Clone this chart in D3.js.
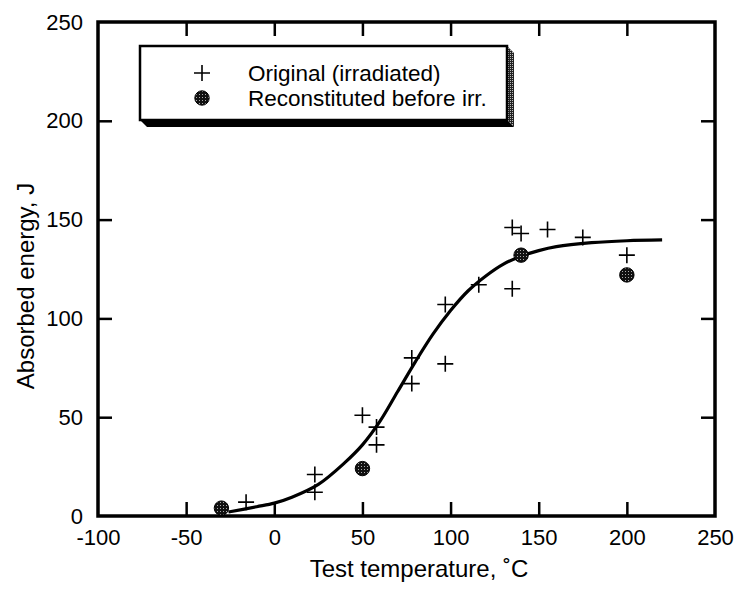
<!DOCTYPE html>
<html><head><meta charset="utf-8">
<script src="https://cdn.jsdelivr.net/npm/d3@7"></script>
<style>
html,body{margin:0;padding:0;background:#fff;}
text{font-family:"Liberation Sans",Arial,Helvetica,sans-serif;fill:#000;}
</style></head>
<body>
<script>
// ---- data ----
const origT = [-16, 23, 23, 50, 58, 58, 78, 78, 97, 97, 116, 135, 135, 140, 155, 175, 200];
const origE = [7, 21, 12, 51, 45, 36, 80, 67, 107, 77, 117, 115, 146, 143, 145, 141, 132];
const reconT = [-30, 50, 140, 200];
const reconE = [4, 24, 132, 122];
const fitT = [-26, -10, 0, 10, 25, 40, 50, 60, 70, 80, 90, 100, 110, 120, 130, 140, 150, 160, 180, 200, 220];
const fitE = [2, 4.7, 6.5, 9.5, 16, 27, 36, 48, 63, 78, 92, 104, 114, 121.5, 127.5, 131.5, 134.3, 136.3, 138.3, 139.3, 139.7];
const xTicks = [-100, -50, 0, 50, 100, 150, 200, 250];
const yTicks = [0, 50, 100, 150, 200, 250];
const legendLabels = ["Original (irradiated)", "Reconstituted before irr."];
const xTitle = "Test temperature, ˚C";
const yTitle = "Absorbed energy, J";

const W = 735, H = 589;
const L = 98, R = 715, T = 22, B = 516;
const svg = d3.select("body").append("svg").attr("width", W).attr("height", H);

const defs = svg.append("defs");
const dot = defs.append("pattern").attr("id","stip").attr("patternUnits","userSpaceOnUse")
  .attr("width",3).attr("height",3);
dot.append("rect").attr("width",3).attr("height",3).attr("fill","#111");
dot.append("rect").attr("x",1).attr("y",1).attr("width",1).attr("height",1).attr("fill","#aaa");
const dot2 = defs.append("pattern").attr("id","stip2").attr("patternUnits","userSpaceOnUse")
  .attr("width",2).attr("height",2);
dot2.append("rect").attr("width",2).attr("height",2).attr("fill","#222");
dot2.append("rect").attr("width",1).attr("height",1).attr("fill","#bbb");

const x = d3.scaleLinear().domain([-100, 250]).range([L, R]);
const y = d3.scaleLinear().domain([0, 250]).range([B, T]);
const fmt = d => String(d);

// axes with inward ticks
const tickLen = 14;
function styleAxis(g){
  g.select(".domain").remove();
  g.selectAll(".tick line").attr("stroke","#000").attr("stroke-width",2.5);
  g.selectAll(".tick text").attr("font-size",22).attr("fill","#000")
    .attr("font-family",'"Liberation Sans",Arial,sans-serif');
}
const xb = svg.append("g").attr("transform",`translate(0,${B})`)
  .call(d3.axisBottom(x).tickValues(xTicks).tickFormat(fmt).tickSize(-tickLen).tickPadding(13));
styleAxis(xb);
const xt = svg.append("g").attr("transform",`translate(0,${T})`)
  .call(d3.axisTop(x).tickValues(xTicks).tickFormat("").tickSize(-tickLen));
styleAxis(xt);
const yl = svg.append("g").attr("transform",`translate(${L},0)`)
  .call(d3.axisLeft(y).tickValues(yTicks).tickFormat(fmt).tickSize(-tickLen).tickPadding(15));
styleAxis(yl);
const yr = svg.append("g").attr("transform",`translate(${R},0)`)
  .call(d3.axisRight(y).tickValues(yTicks).tickFormat("").tickSize(-tickLen));
styleAxis(yr);
[xb, xt].forEach(g => g.selectAll(".tick").filter(d => d === -100 || d === 250).select("line").remove());
[yl, yr].forEach(g => g.selectAll(".tick").filter(d => d === 0 || d === 250).select("line").remove());

// frame
svg.append("rect").attr("x",L).attr("y",T).attr("width",R-L).attr("height",B-T)
  .attr("fill","none").attr("stroke","#000").attr("stroke-width",3.5);

// fitted curve
const line = d3.line().x(d => x(d[0])).y(d => y(d[1])).curve(d3.curveCatmullRom.alpha(0.5));
svg.append("path").datum(fitT.map((t,i)=>[t, fitE[i]]))
  .attr("d", line).attr("fill","none").attr("stroke","#000").attr("stroke-width",3.2);

// original (irradiated) crosses
const cs = 8;
svg.append("g").selectAll("path").data(origT.map((t,i)=>[t, origE[i]])).join("path")
  .attr("d", d => {const cx=x(d[0]), cy=y(d[1]);
    return `M${cx-cs},${cy}H${cx+cs}M${cx},${cy-cs}V${cy+cs}`;})
  .attr("stroke","#000").attr("stroke-width",1.6).attr("fill","none");

// reconstituted circles
svg.append("g").selectAll("circle").data(reconT.map((t,i)=>[t, reconE[i]])).join("circle")
  .attr("cx", d => x(d[0])).attr("cy", d => y(d[1])).attr("r", 7.2)
  .attr("fill","url(#stip)").attr("stroke","#000").attr("stroke-width",1);

// legend
const lx0 = 140, ly0 = 46, lx1 = 507, ly1 = 120, sh = 7;
svg.append("polygon").attr("points",
  `${lx0},${ly1} ${lx0+sh},${ly1+sh} ${lx1+sh},${ly1+sh} ${lx1},${ly1}`).attr("fill","#000");
svg.append("polygon").attr("points",
  `${lx1},${ly0} ${lx1+sh},${ly0+sh} ${lx1+sh},${ly1+sh} ${lx1},${ly1}`).attr("fill","url(#stip2)");
svg.append("rect").attr("x",lx0).attr("y",ly0).attr("width",lx1-lx0).attr("height",ly1-ly0)
  .attr("fill","#fff").attr("stroke","#000").attr("stroke-width",2.5);
const rowY = [73, 98];
const mx = 202;
svg.append("path").attr("d",`M${mx-cs},${rowY[0]}H${mx+cs}M${mx},${rowY[0]-cs}V${rowY[0]+cs}`)
  .attr("stroke","#000").attr("stroke-width",1.6);
svg.append("circle").attr("cx",mx).attr("cy",rowY[1]).attr("r",7.2)
  .attr("fill","url(#stip)").attr("stroke","#000").attr("stroke-width",1);
legendLabels.forEach((s,i)=>{
  svg.append("text").attr("x",248).attr("y",rowY[i]+8).attr("font-size",22.5).text(s);
});

// axis titles
svg.append("text").attr("x",419).attr("y",577).attr("text-anchor","middle")
  .attr("font-size",24).text(xTitle);
svg.append("text").attr("transform","translate(34,286) rotate(-90)").attr("text-anchor","middle")
  .attr("font-size",24).text(yTitle);
</script>
</body></html>
